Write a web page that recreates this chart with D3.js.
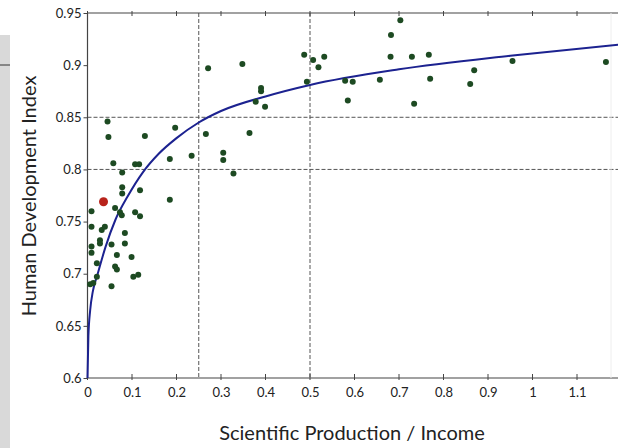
<!DOCTYPE html>
<html><head><meta charset="utf-8">
<script src="https://cdn.jsdelivr.net/npm/d3@7"></script>
<style>
html,body{margin:0;padding:0;background:#fff;}
svg{display:block;}
text{font-family:Lato,"Open Sans",sans-serif;fill:#222;}
</style></head>
<body><svg id="c" width="618" height="448"></svg>
<script>
// Data
const ratio = [0.045,0.047,0.129,0.197,0.185,0.234,0.266,0.271,0.058,0.078,0.107,0.116,0.078,0.078,0.118,0.185,0.009,0.062,0.073,0.077,0.107,0.118,0.009,0.032,0.039,0.084,0.028,0.028,0.054,0.084,0.009,0.009,0.066,0.099,0.021,0.062,0.066,0.103,0.114,0.021,0.006,0.013,0.054,0.348,0.487,0.507,0.519,0.532,0.493,0.390,0.390,0.378,0.399,0.364,0.305,0.305,0.328,0.579,0.596,0.585,0.657,0.681,0.682,0.703,0.729,0.767,0.770,0.734,0.869,0.860,0.955,1.165];
const hdi   = [0.846,0.831,0.832,0.840,0.810,0.813,0.834,0.897,0.806,0.797,0.805,0.805,0.783,0.777,0.780,0.771,0.760,0.763,0.759,0.756,0.759,0.755,0.745,0.742,0.745,0.739,0.732,0.729,0.728,0.729,0.726,0.720,0.718,0.716,0.710,0.707,0.704,0.697,0.699,0.697,0.690,0.691,0.688,0.901,0.910,0.905,0.898,0.908,0.884,0.878,0.875,0.865,0.860,0.835,0.816,0.809,0.796,0.885,0.884,0.866,0.886,0.908,0.929,0.943,0.908,0.910,0.887,0.863,0.895,0.882,0.904,0.903];
const highlightRatio = [0.036];
const highlightHdi = [0.769];
const fitRatio = [0, 0.002, 0.006, 0.012, 0.023, 0.04, 0.063, 0.09, 0.124, 0.16, 0.2, 0.25, 0.3, 0.4, 0.5, 0.7, 0.95, 1.2];
const fitHdi   = [0.6, 0.64, 0.665, 0.683, 0.70, 0.725, 0.752, 0.774, 0.797, 0.815, 0.830, 0.845, 0.856, 0.870, 0.881, 0.896, 0.909, 0.920];
const refX = [0.25, 0.5];
const refY = [0.85, 0.8];
const xTicks = [0,0.1,0.2,0.3,0.4,0.5,0.6,0.7,0.8,0.9,1,1.1];
const yTicks = [0.6,0.65,0.7,0.75,0.8,0.85,0.9,0.95];
const xTitle = "Scientific Production / Income";
const yTitle = "Human Development Index";

const svg = d3.select("#c");
const L = 87.5, T = 13, B = 378, R = 618;
const x = d3.scaleLinear().domain([0, 1]).range([L, L + 445]);
const y = d3.scaleLinear().domain([0.6, 0.95]).range([B, T]);

// gray strip at left edge
svg.append("rect").attr("x",0).attr("y",35).attr("width",10).attr("height",413).attr("fill","#d9d9d9");
svg.append("line").attr("x1",0).attr("x2",10).attr("y1",65).attr("y2",65).attr("stroke","#333").attr("stroke-width",1);

// reference dashed lines
svg.selectAll(".rx").data(refX).enter().append("line")
  .attr("x1",d=>x(d)).attr("x2",d=>x(d)).attr("y1",T).attr("y2",B)
  .attr("stroke","#555").attr("stroke-width",1).attr("stroke-dasharray","4,2");
svg.selectAll(".ry").data(refY).enter().append("line")
  .attr("x1",L).attr("x2",R).attr("y1",d=>y(d)).attr("y2",d=>y(d))
  .attr("stroke","#555").attr("stroke-width",1).attr("stroke-dasharray","4,2");

// frame lines
svg.append("line").attr("x1",L).attr("x2",R).attr("y1",T).attr("y2",T).attr("stroke","#444").attr("stroke-width",1.2);
svg.append("line").attr("x1",L).attr("x2",R).attr("y1",B).attr("y2",B).attr("stroke","#444").attr("stroke-width",1.2);
svg.append("line").attr("x1",L).attr("x2",L).attr("y1",T).attr("y2",B).attr("stroke","#444").attr("stroke-width",1.2);
svg.append("line").attr("x1",611).attr("x2",611).attr("y1",T).attr("y2",B).attr("stroke","#eee").attr("stroke-width",1);

// axes
const xAxis = svg.append("g").attr("transform",`translate(0,${B})`)
  .call(d3.axisBottom(x).tickValues(xTicks).tickSize(0).tickPadding(10).tickFormat(d=>d3.format("~g")(d)));
xAxis.select(".domain").remove();
xAxis.selectAll("text").attr("font-size",13).attr("font-family","Lato, sans-serif").attr("fill","#222");
svg.selectAll(".xt").data(xTicks).enter().append("line")
  .attr("x1",d=>x(d)).attr("x2",d=>x(d)).attr("y1",B-4).attr("y2",B+2).attr("stroke","#444");
svg.selectAll(".xtt").data(xTicks).enter().append("line")
  .attr("x1",d=>x(d)).attr("x2",d=>x(d)).attr("y1",T-2).attr("y2",T+3).attr("stroke","#444");

const yAxis = svg.append("g").attr("transform",`translate(${L},0)`)
  .call(d3.axisLeft(y).tickValues(yTicks).tickSize(4).tickPadding(2).tickFormat(d=>d3.format("~g")(d)));
yAxis.select(".domain").remove();
yAxis.selectAll("line").attr("stroke","#444");
yAxis.selectAll("text").attr("font-size",13).attr("font-family","Lato, sans-serif").attr("fill","#222");

// fit curve
const fit = fitRatio.map((r,i)=>[r, fitHdi[i]]);
svg.append("path").datum(fit)
  .attr("d", d3.line().x(d=>x(d[0])).y(d=>y(d[1])).curve(d3.curveMonotoneX))
  .attr("fill","none").attr("stroke","#1c2290").attr("stroke-width",2);

// points
const pts = ratio.map((r,i)=>[r, hdi[i]]);
svg.selectAll(".pt").data(pts).enter().append("circle")
  .attr("cx",d=>x(d[0])).attr("cy",d=>y(d[1])).attr("r",3)
  .attr("fill","#1d4a22");
svg.selectAll(".hl").data(highlightRatio.map((r,i)=>[r, highlightHdi[i]])).enter().append("circle")
  .attr("cx",d=>x(d[0])).attr("cy",d=>y(d[1])).attr("r",4.5)
  .attr("fill","#b8231b");

// titles
svg.append("text").attr("x",352).attr("y",440).attr("text-anchor","middle")
  .attr("font-size",20).text(xTitle);
svg.append("text").attr("transform","translate(36,196) rotate(-90)").attr("text-anchor","middle")
  .attr("font-size",20).text(yTitle);
</script>
</body></html>
